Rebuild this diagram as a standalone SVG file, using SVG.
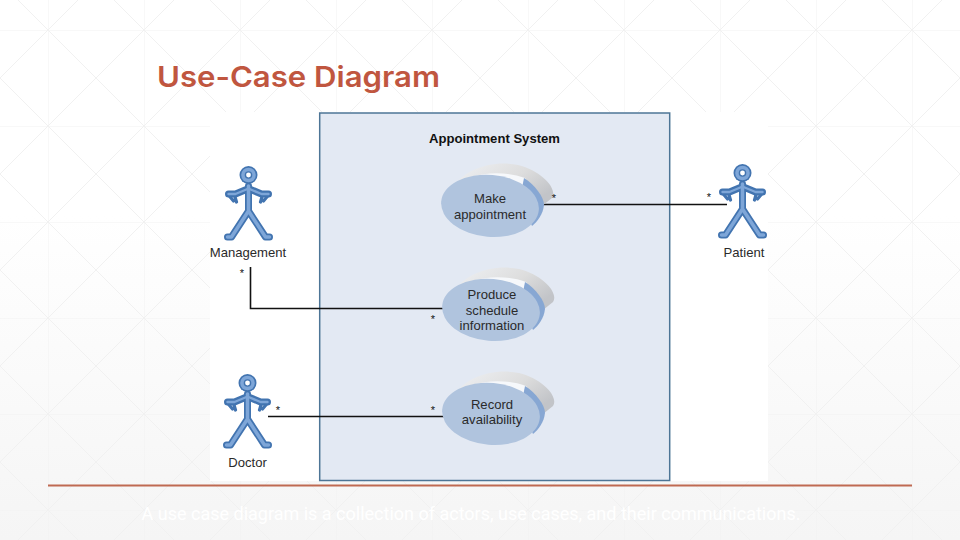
<svg xmlns="http://www.w3.org/2000/svg" xmlns:xlink="http://www.w3.org/1999/xlink" width="960" height="540" viewBox="0 0 960 540">
<style>
.t{font-family:"Liberation Sans",Arial,sans-serif;fill:#2a2a2a}
.lbl{font-size:13.100px;text-anchor:middle}
.star{font-size:11px;text-anchor:middle;fill:#111}
.conn{fill:none;stroke:#111;stroke-width:1.600}
.limbO{fill:none;stroke:#4274b0;stroke-width:7;stroke-linecap:round;stroke-linejoin:round}
.limbI{fill:none;stroke:#7ea6d8;stroke-width:3.500;stroke-linecap:round;stroke-linejoin:round}
.hand{fill:none;stroke:#4274b0;stroke-width:3.200;stroke-linecap:round;stroke-linejoin:round}
.uc{fill:#b0c4de}
</style>
<defs>
<linearGradient id="bg" x1="0" y1="0" x2="0" y2="1"><stop offset="0.4" stop-color="#ffffff"/><stop offset="1" stop-color="#f5f5f5"/></linearGradient>
<pattern id="grid" x="48" y="30" width="96" height="96" patternUnits="userSpaceOnUse">
<path d="M0 0H96M0 0V96M0 0L96 96M96 0L0 96" fill="none" stroke="#f1f1f1" stroke-width="1"/>
</pattern>
<linearGradient id="shade" x1="0" y1="0" x2="1" y2="0.6"><stop offset="0" stop-color="#eff1f4"/><stop offset="0.6" stop-color="#dddddd"/><stop offset="1" stop-color="#c2c4c8"/></linearGradient>
<g id="actor">
<g class="limbO"><path d="M0 -11V14M0 14L-17 40H-21M0 14L17 40H21"/><path d="M-1 -8L-13 -3H-20M1 -8L13 -3H20"/></g>
<path class="hand" d="M-20 -2L-15 4M-14 -2L-12 5M20 -2L15 4M14 -2L12 5"/>
<g class="limbI"><path d="M0 -11V14M0 14L-17 40H-21M0 14L17 40H21"/><path d="M-1 -8L-13 -3H-20M1 -8L13 -3H20" stroke-width="2.400"/></g>
<circle cy="-22" r="9" fill="#4274b0"/>
<circle cy="-22" r="7.300" fill="#7ea6d8"/>
<circle cy="-22" r="3.800" fill="#4274b0"/>
<circle cy="-22" r="2.400" fill="#fff"/>
</g>
<g id="case">
<path d="M-38 -20C-26 -37 0 -46 26 -41C50 -35 66 -17 60 -8L50 0L20 -20Z" fill="url(#shade)"/>
<path d="M-38 -19C-24 -33 8 -37 33 -28L42 -16L10 -20Z" fill="#f6f8fb"/>
<path d="M32 -28C43 -21 52 -9 52 -1C51 8 46 15 40 20L28 -8Z" fill="#87a7d3"/>
<ellipse cx="-2" cy="0" rx="49" ry="31" class="uc" transform="rotate(5)"/>
</g>
</defs>
<rect width="960" height="540" fill="url(#bg)"/>
<rect width="960" height="540" fill="url(#grid)"/>
<rect x="210" y="112" width="558" height="369" fill="#fff"/>
<text x="157" y="87" font-family="Inter, Liberation Sans, sans-serif" font-weight="600" font-size="29" fill="#c0563f" textLength="283" lengthAdjust="spacingAndGlyphs">Use-Case Diagram</text>
<g id="system">
<rect x="319.700" y="113" width="350" height="367.500" fill="#e3e9f3" stroke="#4d7596" stroke-width="1.500"/>
<text x="494.500" y="143" class="t" font-size="13.100" font-weight="700" text-anchor="middle" style="fill:#111">Appointment System</text>
</g>
<g id="connectors">
<path class="conn" d="M540 204.500H727"/>
<path class="conn" d="M250.500 267V308.500H444"/>
<path class="conn" d="M268 416.500H444"/>
</g>
<g id="make-appointment"><use xlink:href="#case" x="492" y="206"/><text class="t lbl" x="490" y="203">Make</text><text class="t lbl" x="490" y="218.500">appointment</text></g>
<g id="produce-schedule"><use xlink:href="#case" x="493" y="310"/><text class="t lbl" x="492" y="299">Produce</text><text class="t lbl" x="492" y="314.500">schedule</text><text class="t lbl" x="492" y="330">information</text></g>
<g id="record-availability"><use xlink:href="#case" x="493" y="414"/><text class="t lbl" x="492" y="409">Record</text><text class="t lbl" x="492" y="424">availability</text></g>
<g id="management"><use xlink:href="#actor" x="248.500" y="197"/><text class="t lbl" x="248" y="257">Management</text></g>
<g id="patient"><use xlink:href="#actor" x="742.500" y="195"/><text class="t lbl" x="744" y="257">Patient</text></g>
<g id="doctor"><use xlink:href="#actor" x="247.500" y="405"/><text class="t lbl" x="247.500" y="467">Doctor</text></g>
<g id="multiplicities">
<text class="t star" x="554" y="202">*</text>
<text class="t star" x="709" y="201">*</text>
<text class="t star" x="242" y="277">*</text>
<text class="t star" x="433" y="323">*</text>
<text class="t star" x="278" y="414">*</text>
<text class="t star" x="433" y="414">*</text>
</g>
<path id="rule" d="M48 485.500H912" stroke="#bf6a52" stroke-width="2" fill="none"/>
<text x="471" y="520" font-family="Roboto, Liberation Sans, sans-serif" font-size="18" fill="#ffffff" text-anchor="middle">A use case diagram is a collection of actors, use cases, and their communications.</text>
</svg>
